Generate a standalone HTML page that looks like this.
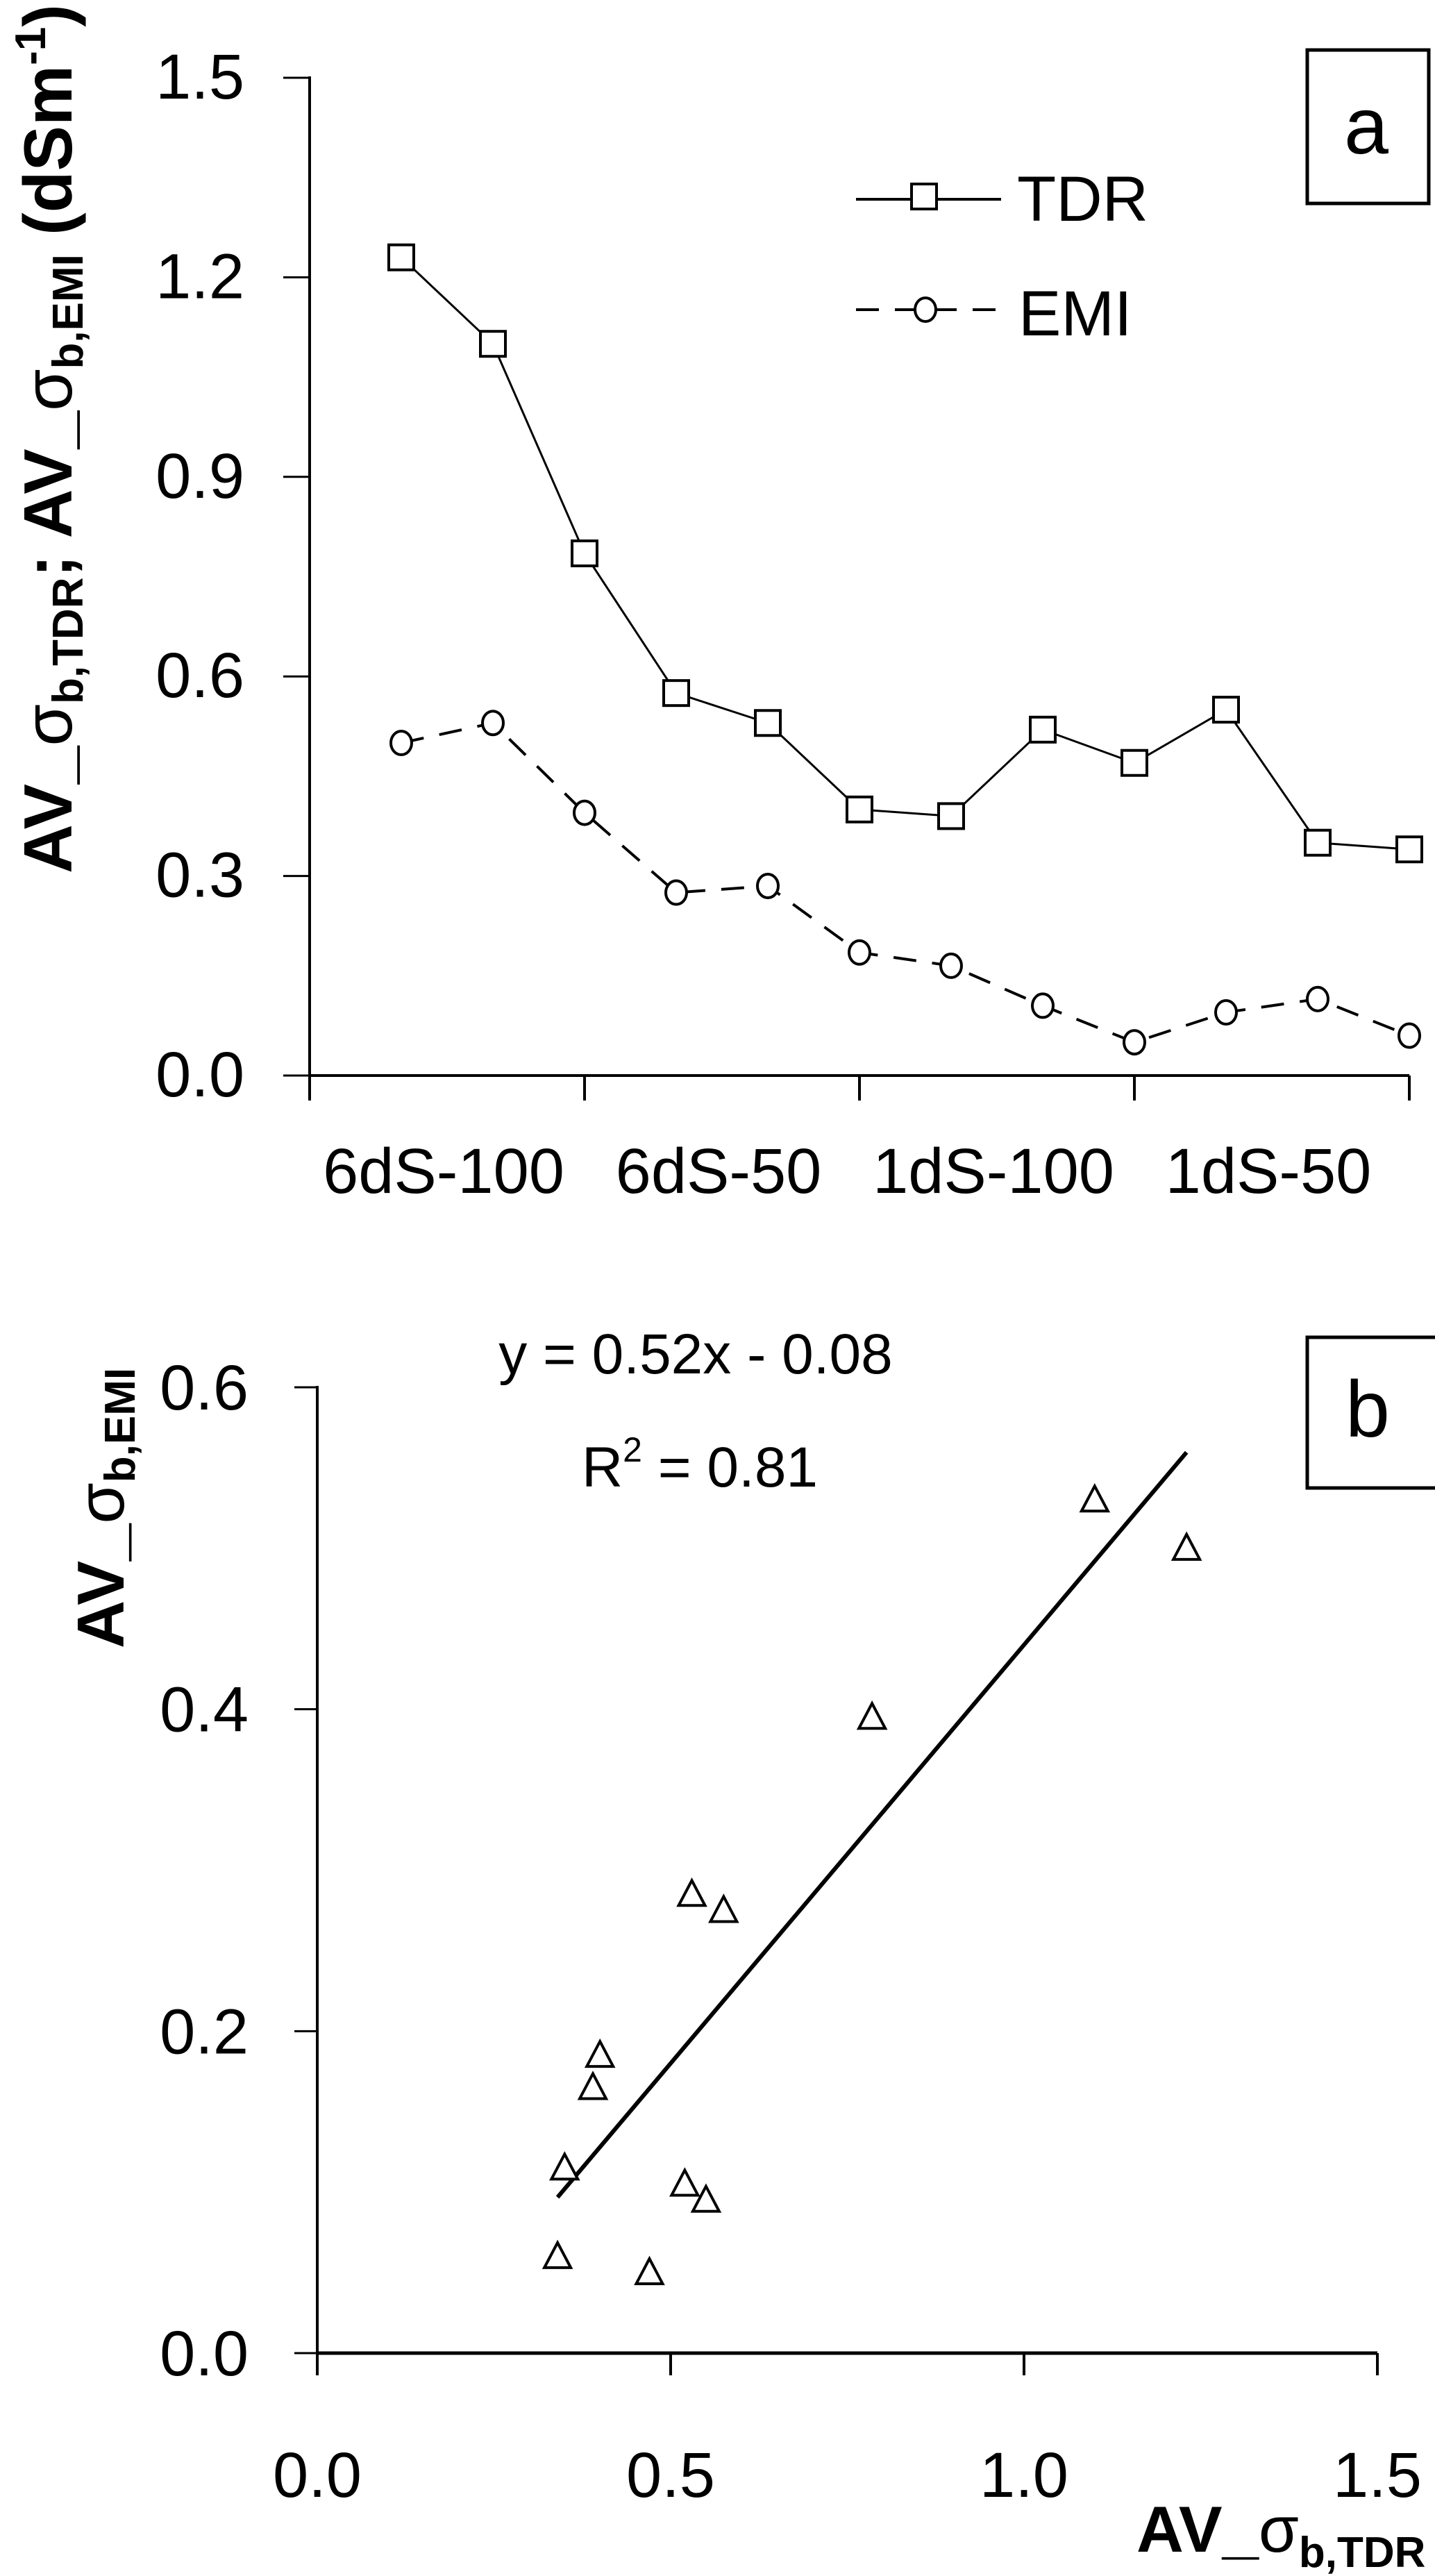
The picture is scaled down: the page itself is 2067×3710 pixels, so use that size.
<!DOCTYPE html>
<html><head><meta charset="utf-8"><style>
html,body{margin:0;padding:0;background:#fff;}
svg{display:block;font-family:"Liberation Sans",sans-serif;}
</style></head><body>
<svg id="fig" width="2067" height="3710" viewBox="0 0 2067 3710">
  <g id="chartA"></g>
  <g id="chartB"></g>
</svg>
<script>
const categories = ["6dS-100","6dS-50","1dS-100","1dS-50"];
const tdrValues = [1.23,1.10,0.785,0.575,0.53,0.40,0.39,0.52,0.47,0.55,0.35,0.34];
const emiValues = [0.50,0.53,0.395,0.275,0.285,0.185,0.165,0.105,0.05,0.095,0.115,0.06];
const yTicksA = [0.0,0.3,0.6,0.9,1.2,1.5];
const yTickLabelsA = ["0.0","0.3","0.6","0.9","1.2","1.5"];
const xTicksB = [0.0,0.5,1.0,1.5];
const xTickLabelsB = ["0.0","0.5","1.0","1.5"];
const yTicksB = [0.0,0.2,0.4,0.6];
const yTickLabelsB = ["0.0","0.2","0.4","0.6"];
const fitSlope = 0.52;
const fitIntercept = -0.08;

const NS = "http://www.w3.org/2000/svg";
function mk(parent, tag, attrs, text){
  const e = document.createElementNS(NS, tag);
  for (const k in attrs) e.setAttribute(k, attrs[k]);
  if (text !== undefined) e.textContent = text;
  parent.appendChild(e);
  return e;
}

/* ---------- Chart A ---------- */
const A = document.getElementById('chartA');
const aL = 446, aR = 2030, aT = 112, aB = 1549;
const nPts = tdrValues.length;
const xA = i => aL + (i + 1) * (aR - aL) / nPts;
const yA = v => aB - (v / 1.5) * (aB - aT);

let el;
el = mk(A, 'line', {x1:aL, y1:aT-2, x2:aL, y2:aB, stroke:'#000', 'stroke-width':4});


el = mk(A, 'line', {x1:aL, y1:aB, x2:aR, y2:aB, stroke:'#000', 'stroke-width':4});



yTicksA.forEach((t, i) => {
  const y = yA(t);
  el = mk(A, 'line', {x1:aL-38, y1:y, x2:aL, y2:y, stroke:'#000', 'stroke-width':3});
  
  
  el = mk(A, 'text', {x:352, y:y+30, 'font-size':92, 'text-anchor':'end'}, yTickLabelsA[i]);
  
  
});
const groupSize = nPts / categories.length;
for (let g = 0; g <= categories.length; g++) {
  const x = aL + g * groupSize * (aR - aL) / nPts;
  el = mk(A, 'line', {x1:x, y1:aB, x2:x, y2:aB+36, stroke:'#000', 'stroke-width':4});
  
  
}
categories.forEach((c, g) => {
  const x = aL + (g + 0.5) * groupSize * (aR - aL) / nPts;
  el = mk(A, 'text', {x:x-5, y:1718, 'font-size':92, 'text-anchor':'middle'}, c);
  
  
});

el = mk(A, 'polyline', {points: tdrValues.map((v,i)=>xA(i)+','+yA(v)).join(' '), fill:'none', stroke:'#000', 'stroke-width':3});


el = mk(A, 'polyline', {points: emiValues.map((v,i)=>xA(i)+','+yA(v)).join(' '), fill:'none', stroke:'#000', 'stroke-width':4, 'stroke-dasharray':'33 23'});


tdrValues.forEach((v, i) => {
  el = mk(A, 'rect', {x:xA(i)-18, y:yA(v)-18, width:36, height:36, fill:'#fff', stroke:'#000', 'stroke-width':4});
  
  
});
emiValues.forEach((v, i) => {
  el = mk(A, 'ellipse', {cx:xA(i), cy:yA(v), rx:15, ry:17, fill:'#fff', stroke:'#000', 'stroke-width':4});
  
  
});

// legend
el = mk(A, 'line', {x1:1233, y1:287, x2:1442, y2:287, stroke:'#000', 'stroke-width':4});


el = mk(A, 'rect', {x:1313, y:265, width:36, height:36, fill:'#fff', stroke:'#000', 'stroke-width':4});


el = mk(A, 'text', {x:1465, y:318, 'font-size':92}, 'TDR');


el = mk(A, 'line', {x1:1233, y1:446, x2:1442, y2:446, stroke:'#000', 'stroke-width':4, 'stroke-dasharray':'33 23'});


el = mk(A, 'ellipse', {cx:1333, cy:446, rx:15, ry:17, fill:'#fff', stroke:'#000', 'stroke-width':4});


el = mk(A, 'text', {x:1467, y:483, 'font-size':92}, 'EMI');



// panel label a
el = mk(A, 'rect', {x:1883, y:72, width:175, height:221, fill:'#fff', stroke:'#000', 'stroke-width':5});


el = mk(A, 'text', {x:1968, y:221, 'font-size':115, 'text-anchor':'middle'}, 'a');



// y title A
el = mk(A, 'text', {transform:'translate(103,632) rotate(-90)', 'font-size':98, 'font-weight':'bold', 'text-anchor':'middle'});


el.innerHTML = 'AV_<tspan font-weight="normal">σ</tspan><tspan font-size="62" dy="16">b,TDR</tspan><tspan dy="-16">; AV_</tspan><tspan font-weight="normal">σ</tspan><tspan font-size="62" dy="16">b,EMI</tspan><tspan dy="-16"> (dSm</tspan><tspan font-size="62" dy="-38">-1</tspan><tspan dy="38">)</tspan>';

/* ---------- Chart B ---------- */
const B = document.getElementById('chartB');
const bL = 457, bR = 1984, bT = 1998, bB = 3389;
const xB = v => bL + (v / 1.5) * (bR - bL);
const yB = v => bB - (v / 0.6) * (bB - bT);

el = mk(B, 'line', {x1:bL, y1:bT-2, x2:bL, y2:bB, stroke:'#000', 'stroke-width':4});


el = mk(B, 'line', {x1:bL, y1:bB, x2:bR, y2:bB, stroke:'#000', 'stroke-width':5});


yTicksB.forEach((t, i) => {
  const y = yB(t);
  el = mk(B, 'line', {x1:bL-33, y1:y, x2:bL, y2:y, stroke:'#000', 'stroke-width':3});
  
  
  el = mk(B, 'text', {x:358, y:y+32, 'font-size':92, 'text-anchor':'end'}, yTickLabelsB[i]);
  
  
});
xTicksB.forEach((t, i) => {
  const x = xB(t);
  el = mk(B, 'line', {x1:x, y1:bB, x2:x, y2:bB+32, stroke:'#000', 'stroke-width':4});
  
  
  el = mk(B, 'text', {x:x, y:3596, 'font-size':92, 'text-anchor':'middle'}, xTickLabelsB[i]);
  
  
});

// regression line
const xMin = Math.min(...tdrValues), xMax = Math.max(...tdrValues);
el = mk(B, 'line', {x1:xB(xMin), y1:yB(fitSlope*xMin+fitIntercept), x2:xB(xMax), y2:yB(fitSlope*xMax+fitIntercept), stroke:'#000', 'stroke-width':6});



tdrValues.forEach((tv, i) => {
  const cx = xB(tv), cy = yB(emiValues[i]);
  el = mk(B, 'polygon', {points:`${cx},${cy-20} ${cx+19},${cy+16} ${cx-19},${cy+16}`, fill:'#fff', stroke:'#000', 'stroke-width':4});
  
  
});

el = mk(B, 'text', {x:1002, y:1978, 'font-size':82, 'text-anchor':'middle'}, 'y = 0.52x - 0.08');


el = mk(B, 'text', {x:1008, y:2141, 'font-size':82, 'text-anchor':'middle'});


el.innerHTML = 'R<tspan font-size="50" dy="-36">2</tspan><tspan dy="36"> = 0.81</tspan>';

el = mk(B, 'rect', {x:1883, y:1926, width:190, height:217, fill:'#fff', stroke:'#000', 'stroke-width':5});


el = mk(B, 'text', {x:1970, y:2069, 'font-size':115, 'text-anchor':'middle'}, 'b');



el = mk(B, 'text', {transform:'translate(178,2172) rotate(-90)', 'font-size':96, 'font-weight':'bold', 'text-anchor':'middle'});


el.innerHTML = 'AV_<tspan font-weight="normal">σ</tspan><tspan font-size="62" dy="16">b,EMI</tspan>';

el = mk(B, 'text', {x:1637, y:3675, 'font-size':94, 'font-weight':'bold'});


el.innerHTML = 'AV_<tspan font-weight="normal">σ</tspan><tspan font-size="62" dy="22">b,TDR</tspan>';
</script>
</body></html>
